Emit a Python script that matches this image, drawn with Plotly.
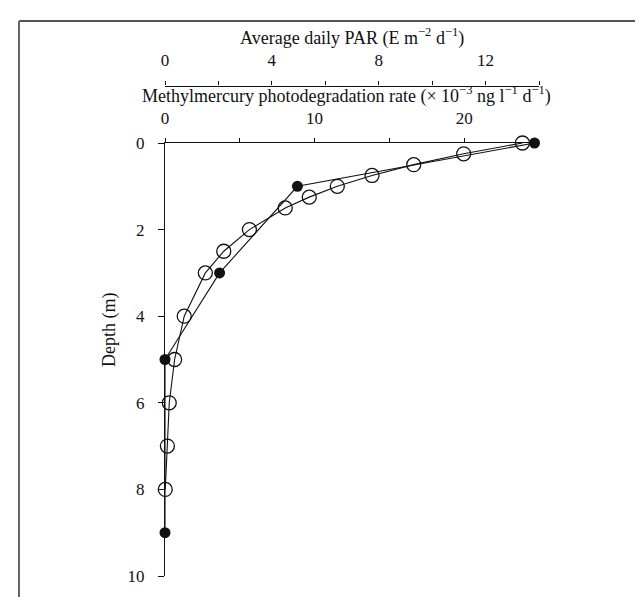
import plotly.graph_objects as go

# Data
depth_rate = [0, 1, 3, 5, 9]
rate = [24.7, 8.85, 3.65, 0.0, 0.0]           # MeHg photodegradation rate (x1e-3 ng/l/d)
depth_par = [0, 0.25, 0.5, 0.75, 1, 1.25, 1.5, 2, 2.5, 3, 4, 5, 6, 7, 8]
par = [13.38, 11.18, 9.31, 7.75, 6.45, 5.40, 4.50, 3.16, 2.20, 1.51, 0.72, 0.36, 0.16, 0.09, 0.01]

rate_ticks = [0, 5, 10, 15, 20]
rate_ticktext = ["0", "", "10", "", "20"]
par_ticks = [0, 2, 4, 6, 8, 10, 12, 14]
par_ticktext = ["0", "", "4", "", "8", "", "12", ""]
depth_ticks = [0, 2, 4, 6, 8, 10]

W, H = 643, 597
L, R, T, B = 157, 112, 30, 29
pw, ph = W - L - R, H - T - B

def px2x(px):
    return (px - L) / pw

def py2y(py):
    return (H - B - py) / ph

FONT = "Liberation Serif"
INK = "#111111"
TICKFONT = dict(family=FONT, size=17, color=INK)

fig = go.Figure()
fig.add_trace(go.Scatter(
    x=par, y=depth_par, xaxis="x2", yaxis="y", mode="lines+markers",
    line=dict(color=INK, width=1.1),
    marker=dict(symbol="circle-open", size=14, color=INK, line=dict(width=1.3)),
    cliponaxis=False, showlegend=False))
fig.add_trace(go.Scatter(
    x=rate, y=depth_rate, xaxis="x", yaxis="y", mode="lines+markers",
    line=dict(color=INK, width=1.1),
    marker=dict(symbol="circle", size=11, color=INK),
    cliponaxis=False, showlegend=False))

ytop = py2y(135)
fig.update_layout(
    width=W, height=H,
    margin=dict(l=L, r=R, t=T, b=B, pad=0),
    paper_bgcolor="white", plot_bgcolor="white",
    font=dict(family=FONT, size=18, color=INK),
    xaxis=dict(domain=[0, 1], anchor="y", side="top", range=[0, 25],
               tickvals=rate_ticks, ticktext=rate_ticktext, tickfont=TICKFONT,
               ticks="outside", ticklen=4, tickwidth=1.2, tickcolor=INK,
               ticklabelstandoff=7,
               showline=True, linecolor=INK, linewidth=1.2,
               showgrid=False, zeroline=False, fixedrange=True),
    xaxis2=dict(overlaying="x", anchor="free", position=py2y(77.5), side="top",
                range=[0, 14], tickvals=par_ticks, ticktext=par_ticktext,
                tickfont=TICKFONT,
                ticks="outside", ticklen=4, tickwidth=1.2, tickcolor=INK,
                ticklabelstandoff=9,
                showline=True, linecolor=INK, linewidth=1.2,
                showgrid=False, zeroline=False),
    yaxis=dict(domain=[0, ytop], range=[10, 0],
               tickvals=depth_ticks, tickfont=TICKFONT,
               ticks="outside", ticklen=6, tickwidth=1.2, ticklabelstandoff=10,
               tickcolor=INK, showline=True, linecolor=INK, linewidth=1.2,
               showgrid=False, zeroline=False),
    annotations=[
        dict(text="Average daily PAR (E m<sup>−2</sup> d<sup>−1</sup>)",
             xref="paper", yref="paper", x=px2x(344), y=py2y(29),
             showarrow=False, xanchor="center", yanchor="middle"),
        dict(text="Methylmercury photodegradation rate (× 10<sup>−3</sup> ng l<sup>−1</sup> d<sup>−1</sup>)",
             xref="paper", yref="paper", x=px2x(338), y=py2y(87),
             showarrow=False, xanchor="center", yanchor="middle"),
        dict(text="Depth (m)", textangle=-90,
             xref="paper", yref="paper", x=px2x(101), y=py2y(322),
             showarrow=False, xanchor="center", yanchor="middle"),
    ],
    shapes=[
        dict(type="line", xref="paper", yref="paper",
             x0=px2x(11), y0=py2y(13), x1=px2x(643), y1=py2y(13),
             line=dict(color="#555555", width=2)),
        dict(type="line", xref="paper", yref="paper",
             x0=px2x(11), y0=py2y(13), x1=px2x(11), y1=py2y(597),
             line=dict(color="#666666", width=2)),
    ],
)

fig.write_html("out.html")
